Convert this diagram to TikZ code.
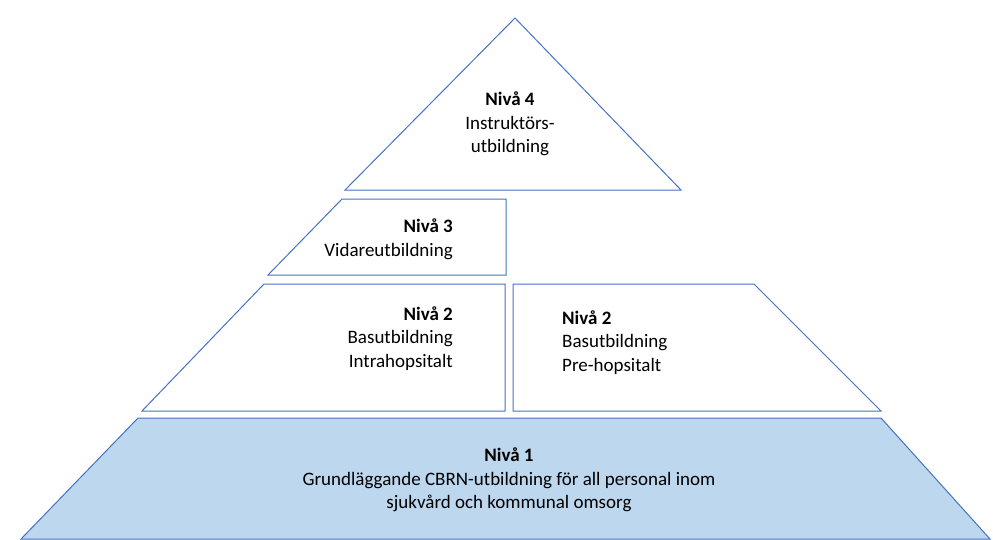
\documentclass[tikz,border=0pt]{standalone}
\usepackage{fontspec}
\setmainfont{Carlito}
\definecolor{edgeblue}{HTML}{4472C4}
\definecolor{basefill}{HTML}{BDD7EE}
\tikzset{
  tier/.style={draw=edgeblue, line width=1pt, line join=miter},
  tiertext/.style={inner sep=0pt, font=\fontsize{19}{23.7}\selectfont}
}

\begin{document}
\begin{tikzpicture}[x=1pt, y=-1pt]
      \useasboundingbox (0,0) rectangle (993,539);
      % pyramid layers
      \begin{scope}
        \path[tier, fill=basefill] (138,418) -- (881,418) -- (990,539) -- (21,539) -- cycle;
        \path[tier] (264,284) -- (505,284) -- (505,411) -- (142,411) -- cycle;
        \path[tier] (513,284) -- (754,284) -- (881,411) -- (513,411) -- cycle;
        \path[tier] (342,199) -- (506,199) -- (506,275) -- (268,275) -- cycle;
        \path[tier] (515,18) -- (681,190) -- (345,190) -- cycle;
      \end{scope}
      % labels
      \begin{scope}[every node/.style={tiertext}]
        \node[align=center] (niva4) at (510,124) {\textbf{Nivå 4}\\Instruktörs-\\utbildning};
        \node[align=right, anchor=east] (niva3) at (453,239) {\textbf{Nivå 3}\\Vidareutbildning};
        \node[align=right, anchor=east] (niva2a) at (453,338.5) {\textbf{Nivå 2}\\Basutbildning\\Intrahopsitalt};
        \node[align=left, anchor=west] (niva2b) at (562,342.5) {\textbf{Nivå 2}\\Basutbildning\\Pre-hopsitalt};
        \node[align=center] (niva1) at (509,480) {\textbf{Nivå 1}\\Grundläggande CBRN-utbildning för all personal inom\\sjukvård och kommunal omsorg};
      \end{scope}
    \end{tikzpicture}
\end{document}
